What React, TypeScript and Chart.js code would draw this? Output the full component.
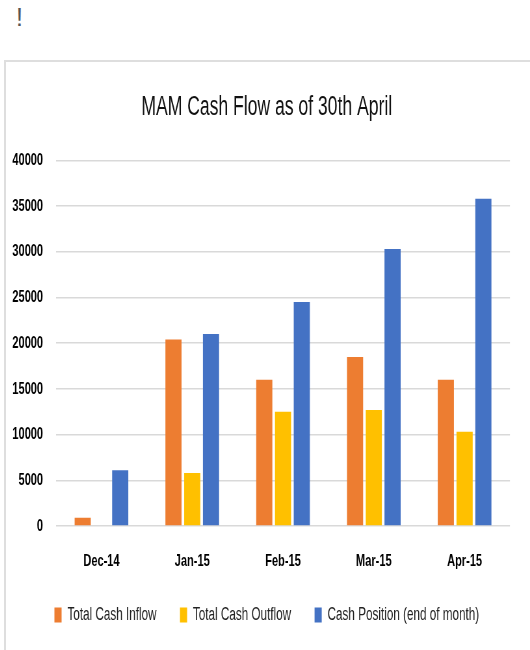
import React, { useEffect, useRef } from "react";
import { Chart, registerables } from "chart.js";

Chart.register(...registerables);

const categories = ["Dec-14", "Jan-15", "Feb-15", "Mar-15", "Apr-15"];
const cashInflow = [900, 20400, 16000, 18500, 16000];
const cashOutflow = [0, 5800, 12500, 12700, 10300];
const cashPosition = [6100, 21000, 24500, 30300, 35800];
const seriesNames = ["Total Cash Inflow", "Total Cash Outflow", "Cash Position (end of month)"];
const seriesColors = ["#ED7D31", "#FFC000", "#4472C4"];
const yTicks = [0, 5000, 10000, 15000, 20000, 25000, 30000, 35000, 40000];

const FONT = "'Liberation Sans', Arial, sans-serif";
// The chart is drawn on a wider backing canvas and shown condensed horizontally,
// giving the narrow (Calibri-like) look of the original.
const CSS_W = 524;
const CSS_H = 588;
const DRAW_W = 806;

export default function App() {
  const canvasRef = useRef<HTMLCanvasElement | null>(null);

  useEffect(() => {
    if (!canvasRef.current) return;
    const chart = new Chart(canvasRef.current, {
      type: "bar",
      data: {
        labels: categories,
        datasets: [cashInflow, cashOutflow, cashPosition].map((d, i) => ({
          label: seriesNames[i],
          data: d,
          backgroundColor: seriesColors[i],
          borderWidth: 0,
          categoryPercentage: 0.62,
          barPercentage: 0.86,
          yAxisID: "y",
        })),
      },
      options: {
        responsive: false,
        animation: false,
        devicePixelRatio: 1,
        layout: { padding: { left: 8.5, right: 12.3, top: 0, bottom: 16 } },
        plugins: {
          tooltip: { enabled: false },
          title: {
            display: true,
            text: "MAM Cash Flow as of 30th April",
            color: "#111",
            font: { family: FONT, size: 27, weight: "normal" },
            padding: { top: 29, bottom: 37 },
          },
          legend: {
            position: "bottom",
            labels: {
              boxWidth: 11,
              boxHeight: 15,
              padding: 36,
              color: "#222",
              font: { family: FONT, size: 18 },
            },
          },
        },
        scales: {
          x: {
            grid: { display: false, drawTicks: false },
            border: { display: false },
            ticks: {
              color: "#000",
              padding: 25,
              font: { family: FONT, size: 17, weight: "bold" },
            },
            afterFit: (scale: any) => {
              scale.height = 44;
            },
          },
          y: {
            position: "left",
            min: 0,
            max: 40000,
            afterBuildTicks: (axis: any) => {
              axis.ticks = yTicks.map((v) => ({ value: v }));
            },
            grid: { color: "#d9d9d9", lineWidth: 1.5, drawTicks: false },
            border: { display: false },
            ticks: {
              color: "#000",
              padding: 20,
              font: { family: FONT, size: 17, weight: "bold" },
              callback: (v: any) => String(v),
            },
            afterFit: (scale: any) => {
              scale.width = 68.5;
            },
          },
          yRight: {
            position: "right",
            display: true,
            grid: { display: false, drawTicks: false },
            border: { display: false },
            ticks: { display: false },
            afterFit: (scale: any) => {
              scale.width = 18.5;
            },
          },
        },
      },
    });
    return () => chart.destroy();
  }, []);

  return (
    <div
      style={{
        position: "fixed",
        left: 0,
        top: 0,
        width: 530,
        height: 650,
        background: "#fff",
        overflow: "hidden",
        fontFamily: FONT,
      }}
    >
      <div
        style={{
          position: "absolute",
          left: 16,
          top: 2,
          fontSize: 25,
          color: "#555",
          lineHeight: "30px",
        }}
      >
        !
      </div>
      <div
        style={{
          position: "absolute",
          left: 4,
          top: 60,
          width: 560,
          height: 620,
          borderLeft: "2px solid #dedede",
          borderTop: "2px solid #dedede",
        }}
      />
      <canvas
        ref={canvasRef}
        width={DRAW_W}
        height={CSS_H}
        style={{ position: "absolute", left: 6, top: 62, width: CSS_W, height: CSS_H }}
      />
    </div>
  );
}
